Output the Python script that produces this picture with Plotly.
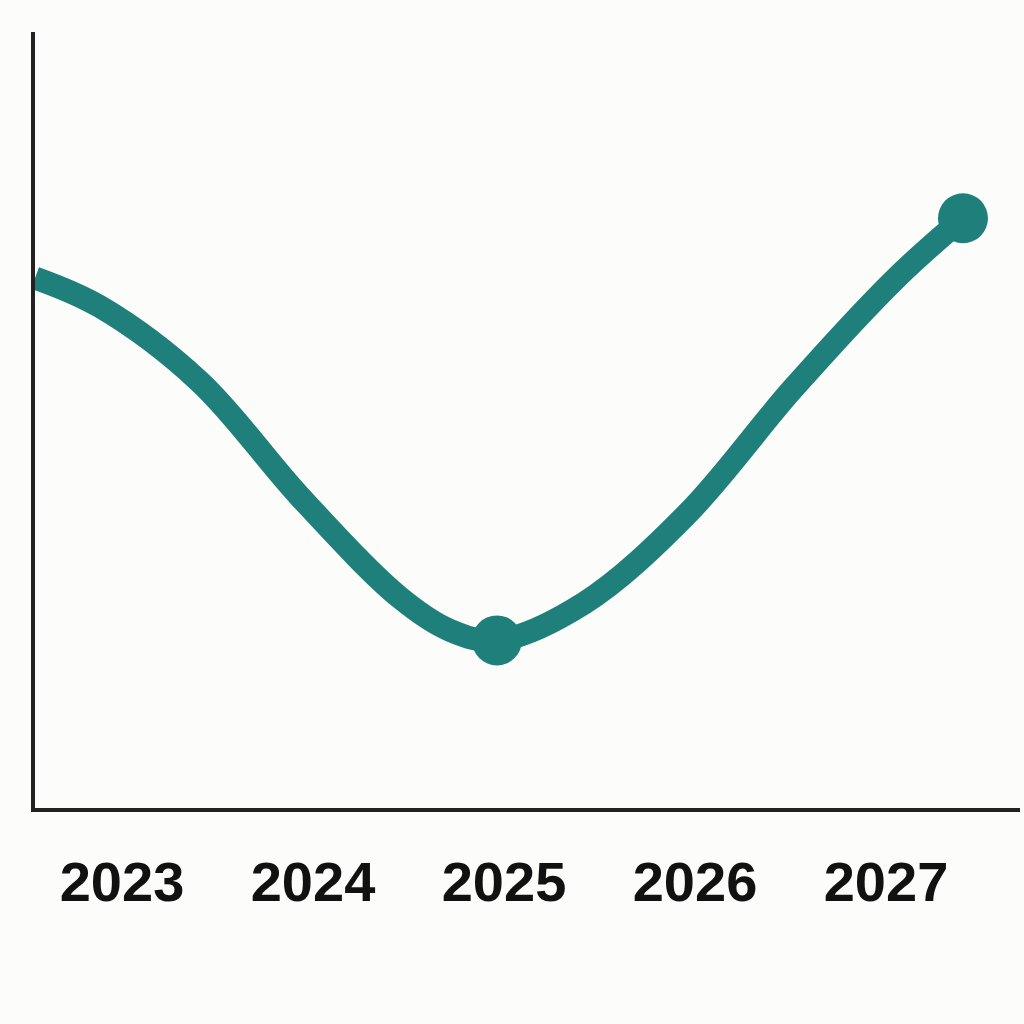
import plotly.graph_objects as go

# Values (x in years, y in arbitrary units 0-100)
years_x = [2022.545, 2022.885, 2023.408, 2023.932, 2024.455, 2024.717, 2024.963,
           2025.419, 2025.963, 2026.508, 2027.058, 2027.403]
values_y = [68.3, 64.6, 54.9, 40.1, 27.1, 22.9, 21.6, 26.4, 38.0, 53.9, 68.4, 76.0]

marker_x = [2024.963, 2027.403]
marker_y = [21.6, 76.0]

tick_vals = [2023, 2024, 2025, 2026, 2027]
tick_text = ["2023", "2024", "2025", "2026", "2027"]

TEAL = "#1f7f7b"
BG = "#fcfcfa"

fig = go.Figure()
fig.add_trace(go.Scatter(
    x=years_x, y=values_y, mode="lines",
    line=dict(color=TEAL, width=23, shape="spline", smoothing=1.0),
    hoverinfo="skip", showlegend=False,
))
fig.add_trace(go.Scatter(
    x=marker_x, y=marker_y, mode="markers",
    marker=dict(color=TEAL, size=50, line=dict(width=0)),
    hoverinfo="skip", showlegend=False, cliponaxis=False,
))

fig.update_layout(
    width=1024, height=1024,
    margin=dict(l=35, r=4, t=32, b=216),
    paper_bgcolor=BG, plot_bgcolor=BG,
    xaxis=dict(
        range=[2022.5445, 2027.7016],
        tickmode="array", tickvals=tick_vals, ticktext=tick_text,
        showgrid=False, zeroline=False,
        showline=True, linecolor="#222222", linewidth=4,
        ticks="", ticklabelstandoff=22,
        tickfont=dict(family="Liberation Sans", size=56, color="#111111", weight="bold"),
    ),
    yaxis=dict(
        range=[0, 100],
        showgrid=False, zeroline=False, showticklabels=False,
        showline=True, linecolor="#222222", linewidth=4, ticks="",
    ),
)

fig.write_html(
    "out.html",
    config={"displayModeBar": False},
    post_script="document.body.style.margin='0';document.body.style.background='#fcfcfa';document.body.style.overflow='hidden';",
)
